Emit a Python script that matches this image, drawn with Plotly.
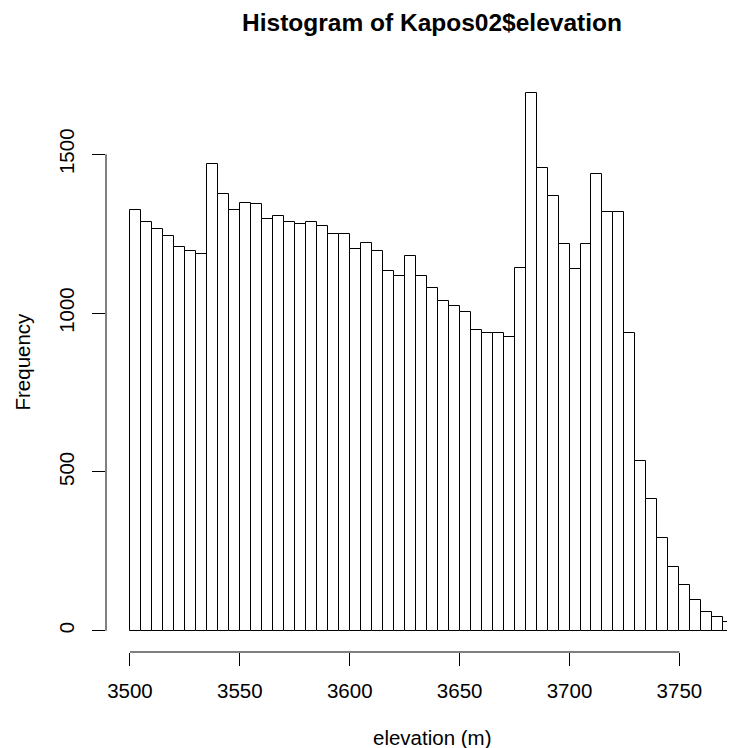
import plotly.graph_objects as go

# Histogram of Kapos02$elevation: bins of width 5 m from 3500 to 3775
bin_left_edges = [3500 + 5 * i for i in range(55)]
bin_width = 5
counts = [
    1325, 1286, 1265, 1244, 1207, 1196, 1186, 1470, 1375, 1326,
    1348, 1343, 1295, 1306, 1286, 1281, 1286, 1275, 1249, 1249,
    1201, 1222, 1197, 1133, 1117, 1181, 1117, 1080, 1039, 1022,
    1003, 947, 937, 937, 924, 1141, 1694, 1458, 1368, 1218,
    1138, 1218, 1437, 1317, 1317, 937, 534, 414, 291, 202,
    143, 97, 58, 42, 27,
]
x_ticks = [3500, 3550, 3600, 3650, 3700, 3750]
y_ticks = [0, 500, 1000, 1500]

title_text = "Histogram of Kapos02$elevation"
x_label = "elevation (m)"
y_label = "Frequency"

FONT = "Liberation Sans, Arial, sans-serif"
BASE = 20.5

# page body has an 8px margin; figure is sized so it ends at the window edge
W, H = 727, 740
ML, MT, MB, MR = 98, 63, 96, 0
PW, PH = W - ML - MR, H - MT - MB

fig = go.Figure()
fig.add_trace(go.Bar(
    x=[e + bin_width / 2 for e in bin_left_edges],
    y=counts,
    width=[bin_width] * len(counts),
    marker=dict(color="white", line=dict(color="black", width=1)),
    hoverinfo="x+y",
))

# R-style axis lines spanning first to last tick only
fig.add_shape(type="line", xref="x", yref="paper",
              x0=x_ticks[0], x1=x_ticks[-1], y0=0, y1=0,
              line=dict(color="black", width=1))
fig.add_shape(type="line", xref="paper", yref="y",
              x0=0, x1=0, y0=y_ticks[0], y1=y_ticks[-1],
              line=dict(color="black", width=1))

fig.update_layout(
    width=W, height=H,
    margin=dict(l=ML, r=MR, t=MT, b=MB, pad=0),
    paper_bgcolor="white", plot_bgcolor="white",
    showlegend=False,
    bargap=0,
    font=dict(family=FONT, size=BASE, color="black"),
    title=dict(text="<b>" + title_text + "</b>", x=424 / W, xref="container",
               xanchor="center", y=1 - 14.4 / H, yref="container", yanchor="middle",
               font=dict(size=24.5, family=FONT, color="black")),
    xaxis=dict(range=[3489.1, 3775.3], showgrid=False, zeroline=False,
               showline=False, tickvals=x_ticks, ticks="outside", ticklen=13,
               tickcolor="black", tickwidth=1, ticklabelstandoff=7,
               tickfont=dict(size=BASE)),
    yaxis=dict(range=[-67.1, 1762.3], showgrid=False, zeroline=False,
               showline=False, tickvals=y_ticks, ticks="outside", ticklen=13,
               tickcolor="black", tickwidth=1, tickangle=-90,
               ticklabelstandoff=10, tickfont=dict(size=BASE)),
    annotations=[
        dict(text=x_label, xref="paper", yref="paper",
             x=(424 - ML) / PW, y=-(729 - (H - MB)) / PH,
             xanchor="center", yanchor="middle", showarrow=False,
             font=dict(size=BASE)),
        dict(text=y_label, xref="paper", yref="paper",
             x=-(ML - 14) / PW, y=0.5, textangle=-90,
             xanchor="center", yanchor="middle", showarrow=False,
             font=dict(size=BASE)),
    ],
)

fig.write_html("out.html")
